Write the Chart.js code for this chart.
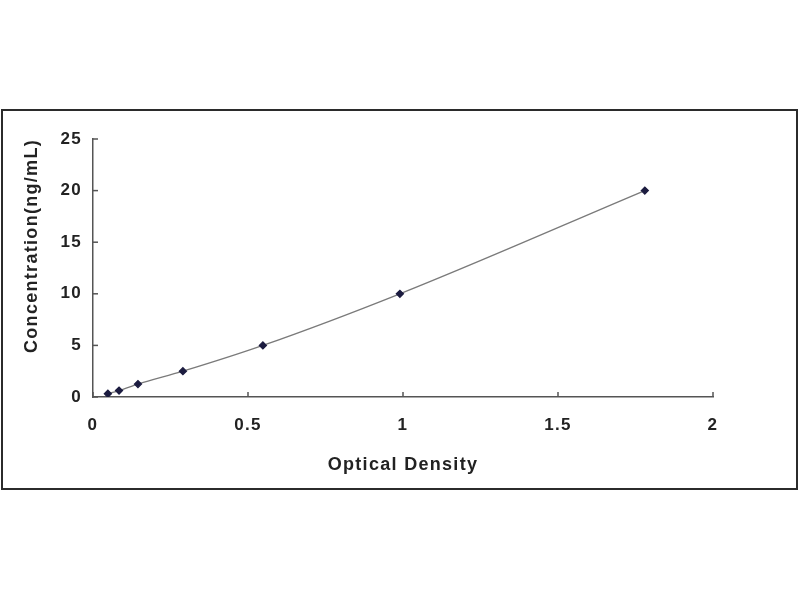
<!DOCTYPE html>
<html>
<head>
<meta charset="utf-8">
<script src="https://cdn.jsdelivr.net/npm/chart.js@4"></script>
<style>
  html, body { margin: 0; padding: 0; background: #fff; width: 800px; height: 600px; overflow: hidden; }
  #frame { position: absolute; left: 1px; top: 109px; width: 793px; height: 377px; border: 2px solid #2b2b2b; background: #fff; }
  #chart { display: block; }
</style>
</head>
<body>
<div id="frame"><canvas id="chart" width="793" height="377"></canvas></div>
<script>
// standard curve readings
const odValues = [0.048, 0.084, 0.145, 0.29, 0.548, 0.99, 1.78];
const concValues = [0.3125, 0.625, 1.25, 2.5, 5, 10, 20];
const xTicks = [0, 0.5, 1, 1.5, 2];
const yTicks = [0, 5, 10, 15, 20, 25];

const points = odValues.map((v, i) => ({ x: v, y: concValues[i] }));

// wider letter spacing like the original, and small tick marks pointing into the plot area
const innerTicks = {
  id: "innerTicks",
  beforeDraw(chart) {
    chart.ctx.letterSpacing = "1.3px";
  },
  afterDraw(chart) {
    const ctx = chart.ctx;
    const xs = chart.scales.x, ys = chart.scales.y;
    ctx.save();
    ctx.strokeStyle = "#555";
    ctx.lineWidth = 1.5;
    xTicks.forEach((t) => {
      const px = xs.getPixelForValue(t);
      ctx.beginPath();
      ctx.moveTo(px, ys.bottom);
      ctx.lineTo(px, ys.bottom - 5);
      ctx.stroke();
    });
    yTicks.forEach((t) => {
      const py = ys.getPixelForValue(t);
      ctx.beginPath();
      ctx.moveTo(xs.left, py);
      ctx.lineTo(xs.left + 5, py);
      ctx.stroke();
    });
    ctx.restore();
  },
};

const family = "'Liberation Sans', Arial, sans-serif";
const tickFont = { family: family, size: 17, weight: "bold" };
const titleFont = { family: family, size: 18, weight: "bold" };

new Chart(document.getElementById("chart").getContext("2d"), {
  type: "scatter",
  data: {
    datasets: [{
      data: points,
      showLine: true,
      borderColor: "#7a7a7a",
      borderWidth: 1.3,
      tension: 0.4,
      cubicInterpolationMode: "monotone",
      pointStyle: "rectRot",
      pointRadius: 3.5,
      pointBackgroundColor: "#1c1c40",
      pointBorderColor: "#1c1c40",
    }],
  },
  options: {
    responsive: false,
    animation: false,
    layout: { padding: { top: 28, right: 83, left: 0, bottom: 0 } },
    plugins: { legend: { display: false }, tooltip: { enabled: false } },
    scales: {
      x: {
        type: "linear",
        min: 0,
        max: 2,
        afterFit: (s) => { s.height = 91; },
        afterBuildTicks: (s) => { s.ticks = xTicks.map((v) => ({ value: v })); },
        grid: { display: false, drawTicks: false },
        border: { display: true, color: "#555", width: 1.5 },
        ticks: { color: "#222", font: tickFont, padding: 18, maxRotation: 0, callback: (v) => String(v) },
        title: { display: true, text: "Optical Density", color: "#222", font: titleFont, padding: { top: 12, bottom: 12 } },
      },
      y: {
        type: "linear",
        min: 0,
        max: 25,
        afterFit: (s) => { s.width = 90; },
        afterBuildTicks: (s) => { s.ticks = yTicks.map((v) => ({ value: v })); },
        grid: { display: false, drawTicks: false },
        border: { display: true, color: "#555", width: 1.5 },
        ticks: { color: "#222", font: tickFont, padding: 11 },
        title: { display: true, text: "Concentration(ng/mL)", align: "end", color: "#222", font: titleFont, padding: { top: 18, bottom: 18 } },
      },
    },
  },
  plugins: [innerTicks],
});
</script>
</body>
</html>
